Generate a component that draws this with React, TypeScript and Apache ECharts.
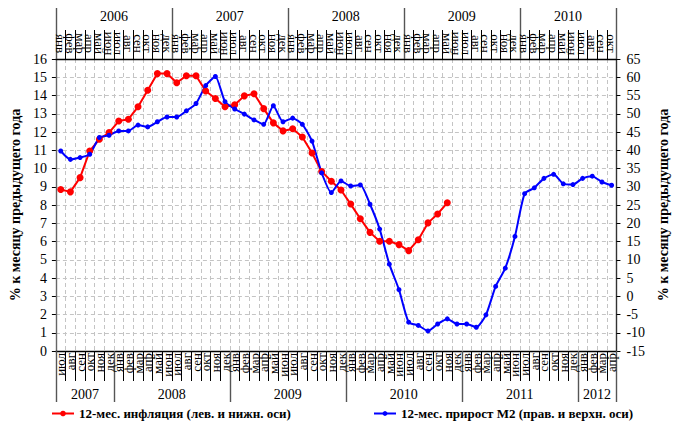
import React, { useEffect, useRef } from 'react';
import * as echarts from 'echarts';

const FONT = 'Liberation Serif';

const MONTHS = ['янв', 'фев', 'мар', 'апр', 'май', 'июн', 'июл', 'авг', 'сен', 'окт', 'ноя', 'дек'];

// top axis (M2): Jan 2006 .. Oct 2010 ; bottom axis (inflation): Jul 2007 .. Apr 2012
const TOP_START_YEAR = 2006;
const TOP_START_MONTH = 0;
const BOTTOM_START_YEAR = 2007;
const BOTTOM_START_MONTH = 6;
const MONTH_COUNT = 58;

// 12-month inflation, %, from Jul 2007 (left & bottom axes)
const inflation = [
  8.85, 8.72, 9.5, 10.96, 11.6, 11.97, 12.6, 12.7, 13.38, 14.29,
  15.2, 15.2, 14.7, 15.08, 15.08, 14.25, 13.84, 13.38, 13.49, 13.98,
  14.1, 13.28, 12.5, 12.06, 12.18, 11.73, 10.85, 9.84, 9.3, 8.82,
  8.05, 7.25, 6.5, 6.01, 6.01, 5.83, 5.5, 6.1, 7.02, 7.51, 8.12,
];

// 12-month M2 growth, %, from Jan 2006 (right & top axes)
const m2 = [
  39.8, 37.5, 38.0, 38.9, 43.5, 44.1, 45.3, 45.3, 46.9, 46.4,
  47.8, 49.1, 49.1, 50.8, 52.8, 57.7, 60.2, 53.3, 51.3, 49.9,
  48.3, 47.1, 52.2, 47.8, 48.8, 47.1, 42.5, 33.8, 28.4, 31.6,
  30.2, 30.5, 25.2, 18.4, 8.8, 1.8, -7.1, -8.0, -9.5, -7.6,
  -6.2, -7.6, -7.6, -8.5, -5.1, 2.7, 7.7, 16.4, 28.1, 29.7,
  32.3, 33.4, 30.8, 30.6, 32.3, 32.9, 31.3, 30.4,
];

const LEFT_MIN = 0;
const LEFT_MAX = 16;
const LEFT_STEP = 1;
const RIGHT_MIN = -15;
const RIGHT_MAX = 65;
const RIGHT_STEP = 5;

const INFL_NAME = '12-мес. инфляция (лев. и нижн. оси)';
const M2_NAME = '12-мес. прирост М2 (прав. и верхн. оси)';
const Y_NAME = '% к месяцу предыдущего года';

function monthKeys(y0: number, m0: number, n: number): string[] {
  const out: string[] = [];
  for (let i = 0; i < n; i++) {
    const t = m0 + i;
    out.push(`${y0 + Math.floor(t / 12)}-${MONTHS[t % 12]}`);
  }
  return out;
}

type Band = { year: string; start: number; end: number };

function yearBands(keys: string[]): Band[] {
  const out: Band[] = [];
  let i = 0;
  while (i < keys.length) {
    const y = keys[i].slice(0, 4);
    let j = i;
    while (j < keys.length && keys[j].slice(0, 4) === y) j++;
    out.push({ year: y, start: i, end: j });
    i = j;
  }
  return out;
}

const topKeys = monthKeys(TOP_START_YEAR, TOP_START_MONTH, MONTH_COUNT);
const bottomKeys = monthKeys(BOTTOM_START_YEAR, BOTTOM_START_MONTH, MONTH_COUNT);
const topBands = yearBands(topKeys);
const bottomBands = yearBands(bottomKeys);

function monthAxis(keys: string[], position: 'top' | 'bottom', tickLen: number, centered: boolean) {
  return {
    type: 'category',
    data: keys,
    position,
    gridIndex: 0,
    boundaryGap: true,
    axisLine: { show: true, onZero: false, lineStyle: { color: '#000', width: 1.3 } },
    axisTick: { show: true, interval: 0, length: tickLen, lineStyle: { color: '#000', width: 1 } },
    axisLabel: {
      interval: 0,
      rotate: 90,
      margin: 2,
      fontFamily: FONT,
      fontSize: 13,
      color: '#000',
      formatter: (v: string) => (centered ? `{m|${v.split('-')[1]}}` : v.split('-')[1]),
      rich: centered ? { m: { width: 27, align: 'center', fontFamily: FONT, fontSize: 13, color: '#000' } } : undefined,
    },
    splitLine:
      position === 'bottom'
        ? { show: true, interval: 0, lineStyle: { color: '#c4c4c4', type: [4, 3], width: 1 } }
        : { show: false },
  };
}

// year separators: long ticks at the first month of every year
function yearAxis(keys: string[], bands: Band[], position: 'top' | 'bottom') {
  const starts = bands.map((b) => b.start);
  return {
    type: 'category',
    data: keys,
    position,
    gridIndex: 0,
    boundaryGap: true,
    axisLine: { show: false, onZero: false },
    axisTick: {
      show: true,
      length: 51,
      interval: (i: number) => starts.includes(i),
      lineStyle: { color: '#555', width: 1.4 },
    },
    axisLabel: { show: false },
    splitLine: { show: false },
  };
}

// year captions centred on their months, drawn through the month axis scale
function yearLabelSeries(bands: Band[], xAxisIndex: number, yAxisIndex: number, yEdge: number, dy: number) {
  return {
    type: 'custom',
    xAxisIndex,
    yAxisIndex,
    silent: true,
    clip: false,
    z: 5,
    data: bands.map((b) => [b.start, yEdge, b.end]),
    renderItem: (params: any, api: any) => {
      const start = api.value(0);
      const end = api.value(2);
      const band = api.size([1, 0])[0];
      const p0 = api.coord([start, yEdge]);
      const p1 = api.coord([end - 1, yEdge]);
      const x = (p0[0] - band / 2 + p1[0] + band / 2) / 2;
      return {
        type: 'text',
        style: {
          text: bands[params.dataIndex].year,
          x,
          y: p0[1] + dy,
          align: 'center',
          verticalAlign: 'middle',
          font: `14px "${FONT}"`,
          fill: '#000',
        },
      };
    },
  };
}

export default function App() {
  const ref = useRef<HTMLDivElement>(null);
  useEffect(() => {
    if (!ref.current) return;
    const chart = echarts.init(ref.current, undefined, { renderer: 'svg' });
    const legendText = { fontFamily: FONT, fontSize: 13, fontWeight: 'bold', color: '#000' };
    chart.setOption({
      animation: false,
      backgroundColor: '#fff',
      textStyle: { fontFamily: FONT },
      grid: { left: 51, right: 45, top: 59, bottom: 75, containLabel: false },
      legend: [
        {
          data: [INFL_NAME],
          left: 51,
          top: 407,
          padding: 0,
          itemWidth: 22,
          itemHeight: 7,
          textStyle: legendText,
        },
        {
          data: [M2_NAME],
          left: 373,
          top: 407,
          padding: 0,
          itemWidth: 22,
          itemHeight: 6,
          textStyle: legendText,
        },
      ],
      xAxis: [
        monthAxis(bottomKeys, 'bottom', 30, false),
        monthAxis(topKeys, 'top', 29, true),
        yearAxis(bottomKeys, bottomBands, 'bottom'),
        yearAxis(topKeys, topBands, 'top'),
      ],
      yAxis: [
        {
          type: 'value',
          position: 'left',
          min: LEFT_MIN,
          max: LEFT_MAX,
          interval: LEFT_STEP,
          name: Y_NAME,
          nameLocation: 'middle',
          nameRotate: 90,
          nameGap: 28,
          nameTextStyle: { fontFamily: FONT, fontSize: 14, fontWeight: 'bold', color: '#000' },
          axisLine: { show: true, onZero: false, lineStyle: { color: '#666', width: 1.4 } },
          axisTick: { show: true, length: 4, lineStyle: { color: '#000' } },
          axisLabel: { margin: 9, fontFamily: FONT, fontSize: 14, color: '#000' },
          splitLine: { show: true, lineStyle: { color: '#c4c4c4', type: [4, 3], width: 1 } },
        },
        {
          type: 'value',
          position: 'right',
          min: RIGHT_MIN,
          max: RIGHT_MAX,
          interval: RIGHT_STEP,
          name: Y_NAME,
          nameLocation: 'middle',
          nameRotate: 90,
          nameGap: 25,
          nameTextStyle: { fontFamily: FONT, fontSize: 14, fontWeight: 'bold', color: '#000' },
          axisLine: { show: true, onZero: false, lineStyle: { color: '#333', width: 1.4 } },
          axisTick: { show: true, length: 4, lineStyle: { color: '#000' } },
          axisLabel: { margin: 10, fontFamily: FONT, fontSize: 14, color: '#000' },
          splitLine: { show: false },
        },
      ],
      series: [
        {
          name: INFL_NAME,
          type: 'line',
          xAxisIndex: 0,
          yAxisIndex: 0,
          data: inflation,
          symbol: 'circle',
          symbolSize: 7,
          itemStyle: { color: '#ff0000' },
          lineStyle: { color: '#ff0000', width: 2 },
        },
        {
          name: M2_NAME,
          type: 'line',
          xAxisIndex: 1,
          yAxisIndex: 1,
          data: m2,
          smooth: 0.2,
          symbol: 'circle',
          symbolSize: 5,
          itemStyle: { color: '#0000ff' },
          lineStyle: { color: '#0000ff', width: 2 },
        },
        yearLabelSeries(bottomBands, 0, 0, LEFT_MIN, 43),
        yearLabelSeries(topBands, 1, 1, RIGHT_MAX, -43),
      ],
    });
    return () => chart.dispose();
  }, []);
  return (
    <div
      ref={ref}
      style={{ position: 'fixed', left: 0, top: 0, width: 678, height: 426, background: '#fff' }}
    />
  );
}
